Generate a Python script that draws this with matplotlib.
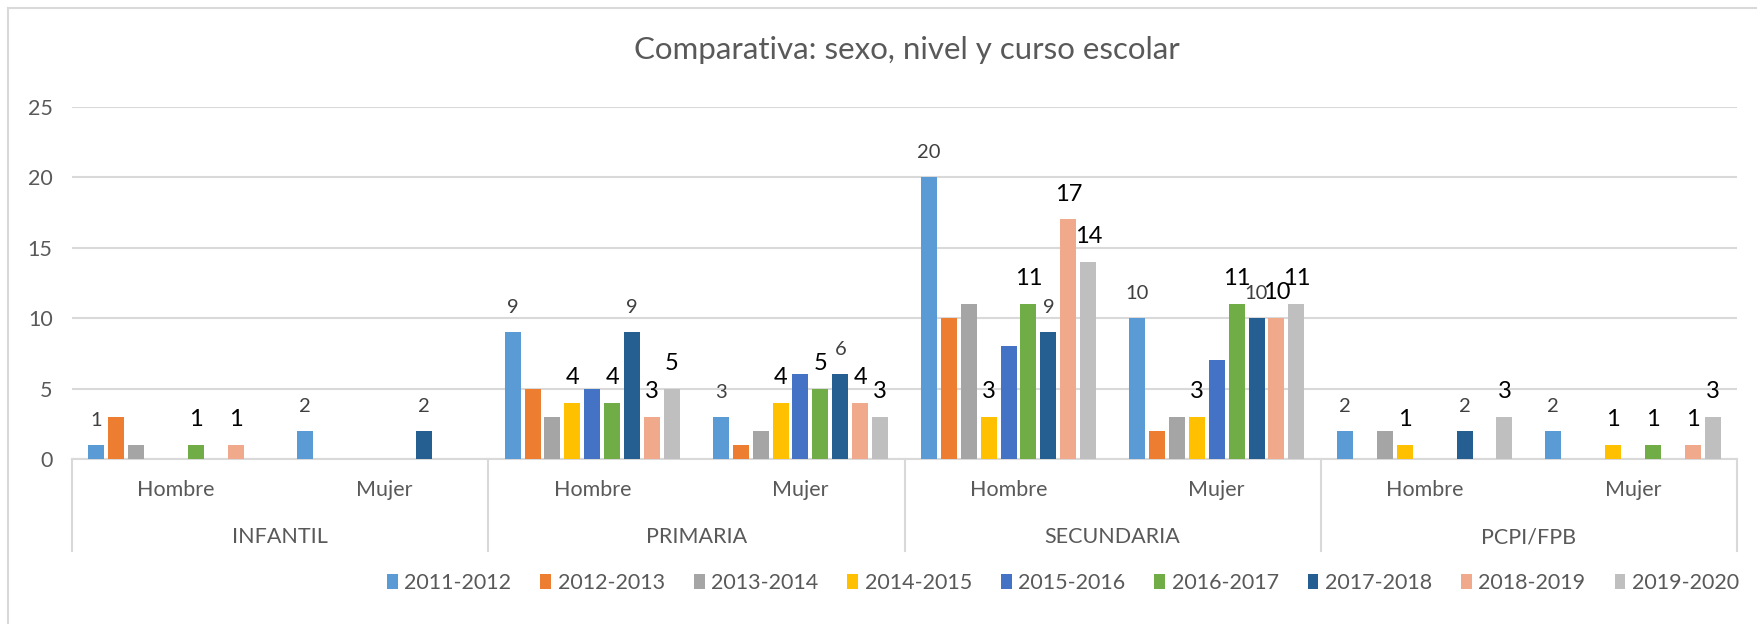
import matplotlib
matplotlib.use("Agg")
import matplotlib.pyplot as plt
from matplotlib.lines import Line2D
import numpy as np

plt.rcParams['font.family'] = ['Lato', 'DejaVu Sans']

levels = ["INFANTIL", "PRIMARIA", "SECUNDARIA", "PCPI/FPB"]
sexes = ["Hombre", "Mujer"]
series_names = ["2011-2012", "2012-2013", "2013-2014", "2014-2015", "2015-2016",
                "2016-2017", "2017-2018", "2018-2019", "2019-2020"]
colors = ["#5B9BD5", "#ED7D31", "#A5A5A5", "#FFC000", "#4472C4",
          "#70AD47", "#255E91", "#F1A98B", "#BFBFBF"]

# values per series, order: INF H, INF M, PRI H, PRI M, SEC H, SEC M, PCPI H, PCPI M
s2011 = [1, 2, 9, 3, 20, 10, 2, 2]
s2012 = [3, 0, 5, 1, 10, 2, 0, 0]
s2013 = [1, 0, 3, 2, 11, 3, 2, 0]
s2014 = [0, 0, 4, 4, 3, 3, 1, 1]
s2015 = [0, 0, 5, 6, 8, 7, 0, 0]
s2016 = [1, 0, 4, 5, 11, 11, 0, 1]
s2017 = [0, 2, 9, 6, 9, 10, 2, 0]
s2018 = [1, 0, 3, 4, 17, 10, 0, 1]
s2019 = [0, 0, 5, 3, 14, 11, 3, 3]
series = [s2011, s2012, s2013, s2014, s2015, s2016, s2017, s2018, s2019]

labelled_gray = [0, 6]
labelled_black = [3, 5, 7, 8]

W, H = 1757, 624
fig = plt.figure(figsize=(W / 100, H / 100), dpi=100)
left, right = 72 / W, 1737 / W
bottom, top = 1 - 459 / H, 1 - 106.7 / H
ax = fig.add_axes([left, bottom, right - left, top - bottom])

n_sub = len(levels) * len(sexes)
x = np.arange(n_sub) + 0.5
pitch = 19.9 / 208.0
bw = 16.0 / 208.0
for i, vals in enumerate(series):
    xs = x + (i - 4) * pitch
    ax.bar(xs, vals, width=bw, color=colors[i], zorder=3, label=series_names[i])
    for xv, v in zip(xs, vals):
        if v == 0:
            continue
        if i in labelled_gray:
            ax.text(xv, v + 1.75, str(v), ha='center', va='center',
                    fontsize=14.5, color='#404040', zorder=4)
        elif i in labelled_black:
            ax.text(xv, v + 1.8, str(v), ha='center', va='center',
                    fontsize=17, color='#000000', zorder=4)

ax.set_xlim(0, n_sub)
ax.set_ylim(0, 25)
ax.set_yticks([0, 5, 10, 15, 20, 25])
ax.yaxis.grid(True, color='#D9D9D9', linewidth=1.5, zorder=0)
ax.set_axisbelow(True)
ax.tick_params(axis='y', length=0, pad=14, labelsize=15.5, labelcolor='#595959')
ax.set_xticks([])
for sp in ax.spines.values():
    sp.set_visible(False)

# category axis lines
trans = ax.get_xaxis_transform()
ax.plot([0, n_sub], [0, 0], transform=trans, color='#D9D9D9', lw=1.5, clip_on=False, zorder=2)
axes_h_px = 459 - 106.7
bottom_line = -(551 - 459) / axes_h_px
for xv in range(0, n_sub + 1, 2):
    ax.plot([xv, xv], [0, bottom_line], transform=trans, color='#D9D9D9', lw=1.5, clip_on=False)

y_sex = -(490 - 459) / axes_h_px
y_lvl = -(537 - 459) / axes_h_px
for k, xv in enumerate(x):
    ax.text(xv, y_sex, sexes[k % 2], transform=trans, ha='center', va='center',
            fontsize=15.5, color='#595959')
for j, lv in enumerate(levels):
    ax.text(2 * j + 1, y_lvl, lv, transform=trans, ha='center', va='center',
            fontsize=15.5, color='#595959')

fig.text(907 / W, 1 - 50 / H, "Comparativa: sexo, nivel y curso escolar",
         ha='center', va='center', fontsize=22.5, color='#595959')

leg = fig.legend(loc='center', bbox_to_anchor=(1063 / W, 1 - 583 / H), ncol=9,
                 frameon=False, fontsize=15.5, handlelength=0.5, handleheight=0.7,
                 handletextpad=0.3, columnspacing=1.35, labelcolor='#595959',
                 borderpad=0.1, borderaxespad=0.0)

# chart border (top and left visible)
fig.add_artist(Line2D([8 / W, 1], [1 - 8 / H, 1 - 8 / H], color='#D9D9D9', lw=1.5))
fig.add_artist(Line2D([8 / W, 8 / W], [0, 1 - 8 / H], color='#D9D9D9', lw=1.5))

fig.savefig("out.png", dpi=100)
